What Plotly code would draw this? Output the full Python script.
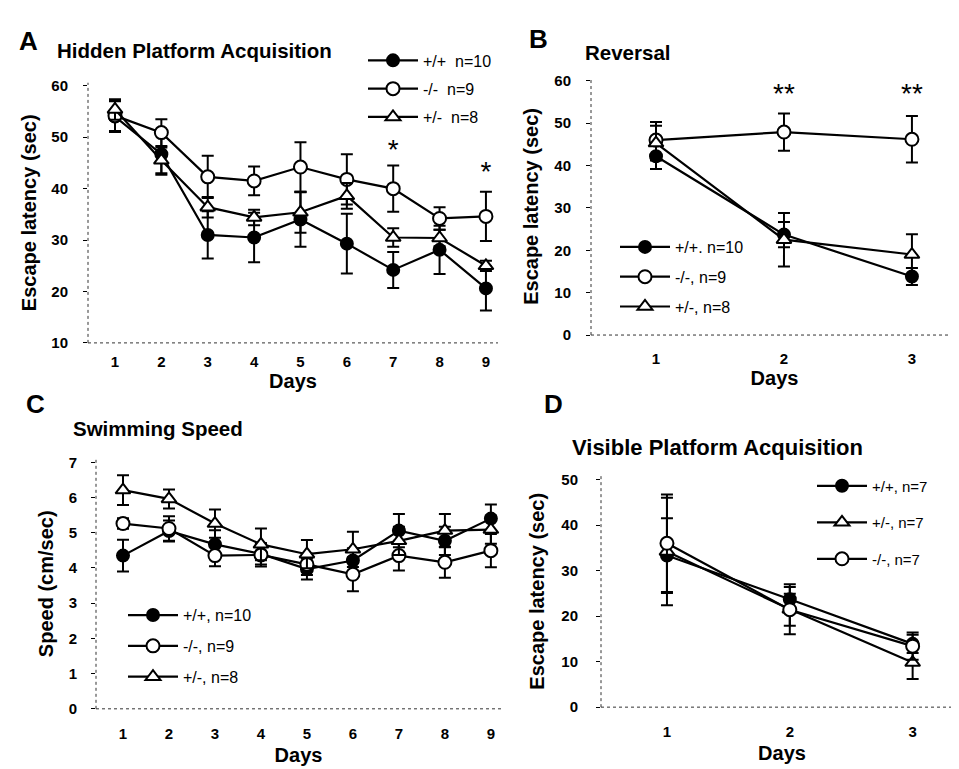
import plotly.graph_objects as go

W, H = 959, 769
FONT = "Liberation Sans"

# ---------------- data ----------------
days_A = [1, 2, 3, 4, 5, 6, 7, 8, 9]
A_wt = [54.0, 46.7, 31.0, 30.5, 34.0, 29.3, 24.2, 28.1, 20.6]
A_wt_err = [3.0, 4.0, 4.6, 4.8, 5.3, 5.8, 3.5, 4.7, 4.3]
A_ko = [54.2, 50.9, 42.3, 41.5, 44.2, 41.8, 40.0, 34.2, 34.6]
A_ko_err = [3.0, 2.6, 4.1, 2.8, 4.8, 4.9, 4.5, 2.2, 4.8]
A_het = [55.4, 45.5, 36.4, 34.4, 35.4, 38.6, 30.5, 30.4, 25.0]
A_het_err = [2.0, 2.5, 2.0, 1.5, 4.0, 2.5, 1.8, 1.6, 1.0]
A_names = ["+/+  n=10", "-/-  n=9", "+/-  n=8"]
A_star_days = [7, 9]
A_star_vals = [47.2, 42.8]

days_B = [1, 2, 3]
B_wt = [42.2, 23.7, 13.8]
B_wt_err = [3.0, 3.0, 2.0]
B_ko = [46.0, 47.9, 46.2]
B_ko_err = [4.3, 4.4, 5.5]
B_het = [45.3, 22.5, 19.0]
B_het_err = [4.1, 6.3, 4.8]
B_names = ["+/+. n=10", "-/-, n=9", "+/-, n=8"]
B_star_days = [2, 3]
B_star_vals = [56.3, 56.3]

days_C = [1, 2, 3, 4, 5, 6, 7, 8, 9]
C_wt = [4.35, 5.05, 4.67, 4.40, 3.97, 4.21, 5.06, 4.77, 5.40]
C_wt_err = [0.45, 0.30, 0.40, 0.30, 0.30, 0.35, 0.47, 0.40, 0.40]
C_ko = [5.26, 5.12, 4.35, 4.37, 4.10, 3.82, 4.35, 4.16, 4.49]
C_ko_err = [0.15, 0.35, 0.30, 0.33, 0.30, 0.48, 0.42, 0.44, 0.47]
C_het = [6.21, 5.96, 5.26, 4.67, 4.39, 4.53, 4.77, 5.06, 5.09]
C_het_err = [0.42, 0.27, 0.40, 0.45, 0.40, 0.50, 0.40, 0.47, 0.40]
C_names = ["+/+, n=10", "-/-, n=9", "+/-, n=8"]

days_D = [1, 2, 3]
D_wt = [33.3, 23.7, 13.9]
D_wt_err = [8.2, 2.7, 2.0]
D_het = [34.2, 21.5, 9.8]
D_het_err = [11.8, 5.5, 3.6]
D_ko = [36.0, 21.4, 13.4]
D_ko_err = [10.7, 3.5, 3.0]
D_names = ["+/+, n=7", "+/-, n=7", "-/-, n=7"]


def px(x):
    return x / W


def py(y):
    return 1 - y / H


STYLE = {
    "wt": dict(symbol="circle", color="black", line=dict(color="black", width=2), size=12),
    "ko": dict(symbol="circle", color="white", line=dict(color="black", width=2), size=13),
    "het": dict(symbol="triangle-up", color="white", line=dict(color="black", width=2), size=13),
}

fig = go.Figure()


def add(xs, ys, errs, name, kind, ax, legend):
    fig.add_trace(go.Scatter(
        x=xs, y=ys, name=name, mode="lines+markers",
        line=dict(color="black", width=2.2),
        marker=STYLE[kind],
        error_y=dict(type="data", array=errs, visible=True, color="black", thickness=2, width=6),
        xaxis="x" + ax, yaxis="y" + ax, legend=legend, legendgroup=legend + kind,
    ))


# panel A
add(days_A, A_wt, A_wt_err, A_names[0], "wt", "", "legend")
add(days_A, A_ko, A_ko_err, A_names[1], "ko", "", "legend")
add(days_A, A_het, A_het_err, A_names[2], "het", "", "legend")
# panel B
add(days_B, B_wt, B_wt_err, B_names[0], "wt", "2", "legend2")
add(days_B, B_ko, B_ko_err, B_names[1], "ko", "2", "legend2")
add(days_B, B_het, B_het_err, B_names[2], "het", "2", "legend2")
# panel C
add(days_C, C_wt, C_wt_err, C_names[0], "wt", "3", "legend3")
add(days_C, C_ko, C_ko_err, C_names[1], "ko", "3", "legend3")
add(days_C, C_het, C_het_err, C_names[2], "het", "3", "legend3")
# panel D
add(days_D, D_wt, D_wt_err, D_names[0], "wt", "4", "legend4")
add(days_D, D_het, D_het_err, D_names[1], "het", "4", "legend4")
add(days_D, D_ko, D_ko_err, D_names[2], "ko", "4", "legend4")

# asterisks
fig.add_trace(go.Scatter(x=A_star_days, y=A_star_vals, mode="text", text=["*"] * len(A_star_days),
                         textfont=dict(family=FONT, size=28, color="black"), showlegend=False,
                         xaxis="x", yaxis="y", hoverinfo="skip"))
fig.add_trace(go.Scatter(x=B_star_days, y=B_star_vals, mode="text", text=["**"] * len(B_star_days),
                         textfont=dict(family=FONT, size=28, color="black"), showlegend=False,
                         xaxis="x2", yaxis="y2", hoverinfo="skip"))

tickfont = dict(family=FONT, size=15, color="black", weight="bold")
titlefont = dict(family=FONT, size=20, color="black", weight="bold")


def xaxis(dom, rng, tickvals, anchor, standoff, lab_standoff):
    return dict(domain=dom, range=rng, tickvals=tickvals, anchor=anchor, showgrid=False, zeroline=False,
                showline=False, ticks="", tickfont=tickfont, ticklabelstandoff=lab_standoff,
                title=dict(text="Days", font=titlefont, standoff=standoff), fixedrange=True)


def yaxis(dom, rng, tickvals, anchor, title, standoff, lab_standoff):
    return dict(domain=dom, range=rng, tickvals=tickvals, anchor=anchor, showgrid=False, zeroline=False,
                showline=False, ticks="outside", ticklen=4, tickwidth=1, tickcolor="black",
                tickfont=tickfont, ticklabelstandoff=lab_standoff,
                title=dict(text=title, font=titlefont, standoff=standoff), fixedrange=True)


fig.update_layout(
    width=W, height=H, margin=dict(l=0, r=0, t=0, b=0),
    paper_bgcolor="white", plot_bgcolor="white",
    font=dict(family=FONT, color="black"),
    xaxis=xaxis([px(80), px(490)], [0.418, 9.26], days_A, "y", 4, 8),
    yaxis=yaxis([py(335), py(70)], [10, 60.6], [10, 20, 30, 40, 50, 60], "x",
                "Escape latency (sec)", 9, 12),
    xaxis2=xaxis([px(583), px(950)], [0.492, 3.36], days_B, "y2", 0, 13),
    yaxis2=yaxis([py(327), py(65)], [0, 60.7], [0, 10, 20, 30, 40, 50, 60], "x2",
                 "Escape latency (sec)", 10, 12),
    xaxis3=xaxis([px(88), px(493)], [0.413, 9.22], days_C, "y3", 7, 14),
    yaxis3=yaxis([py(707.7), py(453)], [0, 7.1], [0, 1, 2, 3, 4, 5, 6, 7], "x3",
                 "Speed (cm/sec)", 9, 11),
    xaxis4=xaxis([px(593), px(955)], [0.463, 3.41], days_D, "y4", 6, 14),
    yaxis4=yaxis([py(706), py(470)], [0, 50.9], [0, 10, 20, 30, 40, 50], "x4",
                 "Escape latency (sec)", 11, 15),
)

legend_common = dict(bgcolor="rgba(0,0,0,0)", xanchor="left", yanchor="top", itemwidth=50,
                     traceorder="grouped", itemclick=False, itemdoubleclick=False)
lf = dict(family=FONT, size=16, color="black")
fig.update_layout(
    legend=dict(x=px(355), y=py(30), tracegroupgap=4.5, font=lf, **legend_common),
    legend2=dict(x=px(607), y=py(220), tracegroupgap=6, font=lf, **legend_common),
    legend3=dict(x=px(115), y=py(595), tracegroupgap=7, font=lf, **legend_common),
    legend4=dict(x=px(804), y=py(464), tracegroupgap=14, font=dict(family=FONT, size=15, color="black"),
                 **legend_common),
)

# dotted axis lines
shapes = []
for ax in ["", "2", "3", "4"]:
    shapes.append(dict(type="line", xref="x%s domain" % ax, yref="y%s domain" % ax, x0=0, x1=0, y0=0, y1=1,
                       line=dict(color="#333", width=1, dash="dot")))
    shapes.append(dict(type="line", xref="x%s domain" % ax, yref="y%s domain" % ax, x0=0, x1=1, y0=0, y1=0,
                       line=dict(color="#333", width=1, dash="dot")))
fig.update_layout(shapes=shapes)

letterfont = dict(family=FONT, size=26, color="black", weight="bold")
ptitlefont = dict(family=FONT, size=20.5, color="black", weight="bold")
ann = [
    ("A", 9, 27, letterfont), ("Hidden Platform Acquisition", 47, 37, ptitlefont),
    ("B", 519, 25, letterfont), ("Reversal", 575, 39, ptitlefont),
    ("C", 16, 397, letterfont), ("Swimming Speed", 63, 422, ptitlefont),
    ("D", 534, 397, letterfont),
    ("Visible Platform Acquisition", 562, 442, dict(family=FONT, size=22, color="black", weight="bold")),
]
for text, x, y, f in ann:
    fig.add_annotation(text=text, x=px(x), y=py(y), xref="paper", yref="paper", xanchor="left",
                       yanchor="middle", showarrow=False, font=f)

fig.write_html("out.html")
